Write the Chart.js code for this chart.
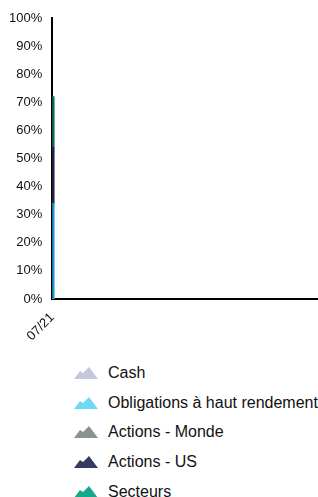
<!DOCTYPE html>
<html>
<head>
<meta charset="utf-8">
<script src="https://cdn.jsdelivr.net/npm/chart.js@4/dist/chart.umd.min.js"></script>
<style>
  body { margin: 0; background: #fff; font-family: "Liberation Sans", Arial, sans-serif; }
  #wrap { position: relative; width: 318px; height: 347px; }
  #legend { list-style: none; margin: 11px 0 0 0; padding: 0 0 0 74px; }
  #legend li { height: 29.75px; display: flex; align-items: center; font-size: 16px; color: #111; white-space: nowrap; }
  #legend svg { margin-right: 10px; flex: none; }
</style>
</head>
<body>
<div id="wrap"><canvas id="areaChart"></canvas></div>
<ul id="legend"></ul>
<script>
// Allocation (% of portfolio) - one snapshot only
const labels = ["07/21"];
const cash = [0];
const obligations = [34];
const actionsMonde = [0];
const actionsUS = [20];
const secteurs = [18];

const names = ["Cash", "Obligations à haut rendement", "Actions - Monde", "Actions - US", "Secteurs"];
const colors = ["#c6c6dd", "#6fd8f5", "#8b9190", "#383b60", "#16a88c"];
const lineColors = ["#b0b0cc", "#1a9fd0", "#6f7574", "#25284a", "#0f6f5c"];
const series = [cash, obligations, actionsMonde, actionsUS, secteurs];

const ctx = document.getElementById("areaChart").getContext("2d");
const chart = new Chart(ctx, {
  type: "bar",
  data: {
    labels: labels,
    datasets: series.map((data, i) => ({
      label: names[i],
      data: data,
      backgroundColor: lineColors[i],
      barThickness: 4,
      borderWidth: 0,
    })),
  },
  options: {
    responsive: true,
    maintainAspectRatio: false,
    animation: false,
    layout: { padding: { top: 18, right: 0, left: 7, bottom: 0 } },
    plugins: {
      legend: { display: false },
      tooltip: { enabled: false },
    },
    scales: {
      x: {
        stacked: true,
        offset: false,
        grid: { display: false },
        border: { color: "#000", width: 2 },
        ticks: {
          color: "#111",
          font: { size: 13, family: "'Liberation Sans', Arial, sans-serif" },
          maxRotation: 45,
          minRotation: 45,
        },
      },
      y: {
        stacked: true,
        min: 0,
        max: 100,
        grid: { display: false },
        border: { color: "#000", width: 2 },
        ticks: {
          stepSize: 10,
          padding: 2,
          color: "#111",
          font: { size: 13, family: "'Liberation Sans', Arial, sans-serif" },
          callback: (v) => v + "%",
        },
      },
    },
  },
});

// legend with mountain icons, one per row
const legend = document.getElementById("legend");
chart.data.datasets.forEach((ds, i) => {
  const li = document.createElement("li");
  li.innerHTML =
    '<svg width="24" height="12" viewBox="0 0 24 12">' +
    '<path d="M0 12 L6 4 L9 6 L15 0 L24 12 Z" fill="' + colors[i] + '"/></svg>';
  li.appendChild(document.createTextNode(ds.label));
  legend.appendChild(li);
});
</script>
</body>
</html>
